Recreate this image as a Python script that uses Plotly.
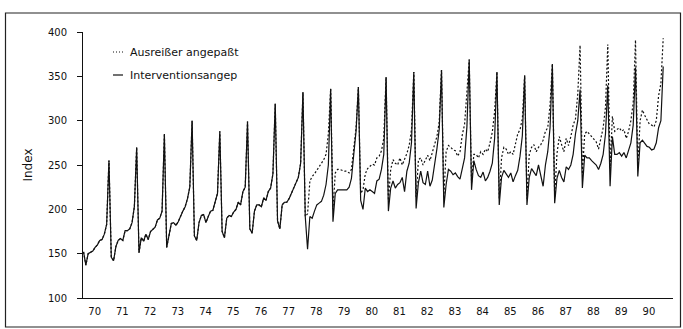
import plotly.graph_objects as go

# ---- data (monthly, Jan 1970 - Dec 1990) ----
years = list(range(1970, 1991))
year_labels = [str(y)[2:] for y in years]

interventionsangep = [
    152, 137, 150, 152, 153, 157, 160, 165, 166, 172, 183, 255,  # 1970
    146, 142, 158, 165, 167, 165, 176, 176, 178, 185, 203, 270,  # 1971
    151, 168, 164, 172, 166, 175, 177, 180, 188, 190, 198, 285,  # 1972
    157, 170, 184, 185, 182, 186, 193, 198, 203, 212, 225, 300,  # 1973
    170, 165, 185, 193, 194, 185, 192, 198, 199, 210, 218, 288,  # 1974
    175, 168, 190, 193, 192, 197, 200, 208, 205, 220, 225, 299,  # 1975
    178, 173, 198, 205, 205, 203, 213, 210, 220, 224, 240, 319,  # 1976
    187, 178, 205, 208, 208, 212, 218, 224, 230, 236, 252, 332,  # 1977
    192, 155, 192, 190, 198, 205, 207, 209, 216, 228, 250, 336,  # 1978
    186, 218, 222, 222, 222, 222, 222, 225, 235, 262, 288, 338,  # 1979
    210, 200, 224, 220, 222, 220, 218, 232, 234, 245, 262, 349,  # 1980
    198, 224, 232, 224, 228, 230, 236, 220, 243, 252, 275, 355,  # 1981
    201, 230, 243, 230, 228, 243, 226, 233, 250, 268, 290, 357,  # 1982
    202, 228, 245, 243, 239, 241, 237, 234, 246, 258, 293, 369,  # 1983
    222, 255, 245, 238, 236, 242, 232, 236, 243, 252, 280, 355,  # 1984
    205, 236, 244, 240, 236, 241, 231, 238, 244, 260, 283, 351,  # 1985
    205, 236, 246, 242, 238, 250, 236, 226, 250, 265, 292, 364,  # 1986
    207, 235, 244, 236, 231, 248, 245, 250, 262, 285, 300, 335,  # 1987
    224, 261, 258, 258, 255, 253, 250, 245, 252, 262, 285, 340,  # 1988
    226, 282, 262, 262, 264, 260, 264, 258, 267, 275, 295, 360,  # 1989
    237, 275, 278, 274, 271, 270, 267, 268, 275, 292, 300, 361,  # 1990
]

ausreisser_angepasst = [
    152, 137, 150, 152, 153, 157, 160, 165, 166, 172, 183, 255,  # 1970
    146, 142, 158, 165, 167, 165, 176, 176, 178, 185, 203, 270,  # 1971
    151, 168, 164, 172, 166, 175, 177, 180, 188, 190, 198, 285,  # 1972
    157, 170, 184, 185, 182, 186, 193, 198, 203, 212, 225, 300,  # 1973
    170, 165, 185, 193, 194, 185, 192, 198, 199, 210, 218, 288,  # 1974
    175, 168, 190, 193, 192, 197, 200, 208, 205, 220, 225, 299,  # 1975
    178, 173, 198, 205, 205, 203, 213, 210, 220, 224, 240, 319,  # 1976
    187, 178, 205, 208, 208, 212, 218, 224, 230, 236, 252, 332,  # 1977
    192, 195, 232, 237, 240, 244, 248, 252, 256, 262, 285, 336,  # 1978
    200, 241, 245, 245, 244, 243, 243, 241, 245, 270, 292, 338,  # 1979
    218, 222, 240, 246, 249, 251, 250, 258, 260, 266, 280, 349,  # 1980
    210, 245, 256, 252, 250, 258, 250, 256, 263, 272, 290, 355,  # 1981
    214, 256, 258, 250, 255, 261, 255, 263, 273, 282, 298, 357,  # 1982
    214, 265, 272, 270, 267, 266, 260, 265, 284, 296, 330, 369,  # 1983
    230, 262, 262, 258, 265, 262, 268, 265, 275, 287, 310, 355,  # 1984
    212, 258, 270, 268, 262, 265, 262, 272, 285, 290, 302, 351,  # 1985
    212, 262, 270, 273, 265, 270, 273, 278, 288, 292, 318, 364,  # 1986
    214, 263, 282, 273, 265, 280, 272, 282, 295, 302, 330, 385,  # 1987
    240, 285, 288, 285, 282, 279, 276, 268, 282, 292, 315, 386,  # 1988
    246, 305, 288, 290, 292, 288, 290, 280, 288, 300, 320, 391,  # 1989
    248, 300, 312, 306, 300, 296, 295, 293, 300, 328, 342, 393,  # 1990
]

x_time = [y + m / 12 for y in years for m in range(12)]

FONT = "DejaVu Sans"

fig = go.Figure()
fig.add_trace(go.Scatter(
    x=x_time, y=ausreisser_angepasst, mode="lines", name="Ausreißer angepaßt",
    line=dict(color="#111111", width=1.2, dash="2px,2px"),
))
fig.add_trace(go.Scatter(
    x=x_time, y=interventionsangep, mode="lines", name="Interventionsangep",
    line=dict(color="#111111", width=1.2),
))

W, H = 683, 329
L, R, T, B = 83, 10, 32, 31
pw, ph = W - L - R, H - T - B

def px(xp):
    return (xp - L) / pw

def py(yp):
    return (H - B - yp) / ph

shapes = [
    # outer frame
    dict(type="rect", xref="paper", yref="paper",
         x0=px(5.5), x1=px(680.5), y0=py(327), y1=py(13),
         line=dict(color="#222222", width=1.2)),
    # legend samples
    dict(type="line", xref="paper", yref="paper",
         x0=px(113), x1=px(123), y0=py(52), y1=py(52),
         line=dict(color="#111111", width=1, dash="1px,2px")),
    dict(type="line", xref="paper", yref="paper",
         x0=px(113), x1=px(123), y0=py(75), y1=py(75),
         line=dict(color="#111111", width=1.2)),
]

annotations = [
    dict(text="Ausreißer angepaßt", xref="paper", yref="paper",
         x=px(128), y=py(52), xanchor="left", yanchor="middle",
         showarrow=False, font=dict(family=FONT, size=11, color="#111111")),
    dict(text="Interventionsangep", xref="paper", yref="paper",
         x=px(128), y=py(75), xanchor="left", yanchor="middle",
         showarrow=False, font=dict(family=FONT, size=11, color="#111111")),
]

fig.update_layout(
    width=W, height=H,
    margin=dict(l=L, r=R, t=T, b=B),
    paper_bgcolor="white", plot_bgcolor="white",
    showlegend=False,
    font=dict(family=FONT, size=10, color="#111111"),
    shapes=shapes, annotations=annotations,
    xaxis=dict(
        range=[1969.98, 1991.27], showgrid=False, zeroline=False,
        showline=True, linecolor="#111111", linewidth=1,
        tickmode="array", tickvals=[y + 0.4 for y in years], ticktext=year_labels,
        ticks="", ticklabelstandoff=4,
        tickfont=dict(family=FONT, size=10, color="#111111"),
    ),
    yaxis=dict(
        range=[100, 400], showgrid=False, zeroline=False,
        showline=True, linecolor="#111111", linewidth=1,
        tickmode="array", tickvals=[100, 150, 200, 250, 300, 350, 400],
        ticks="outside", ticklen=5, tickcolor="#111111",
        ticklabelstandoff=8,
        tickfont=dict(family=FONT, size=10, color="#111111"),
        title=dict(text="Index", font=dict(family=FONT, size=12, color="#111111"),
                   standoff=12),
    ),
)

fig.write_html("out.html")
